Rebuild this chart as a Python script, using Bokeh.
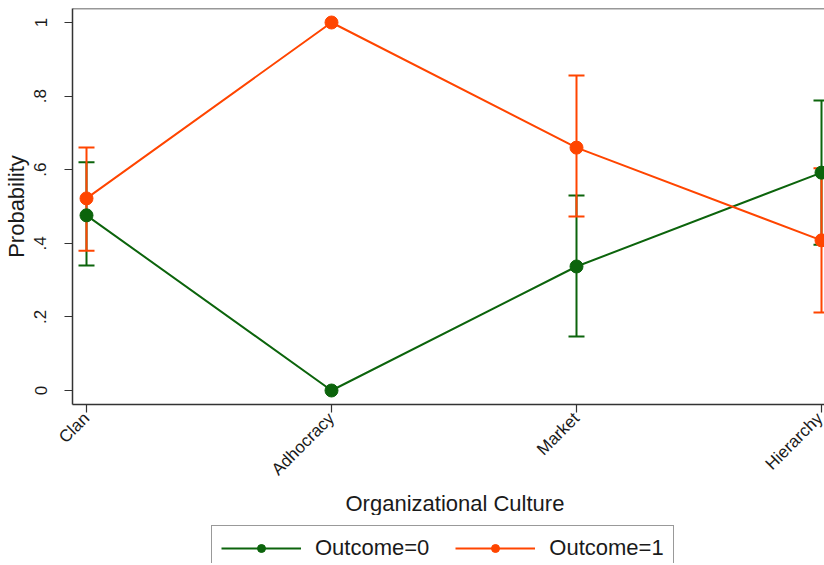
from bokeh.plotting import figure
from bokeh.layouts import column
from bokeh.models import (Range1d, FixedTicker, Whisker, TeeHead, ColumnDataSource,
                          Legend, LegendItem, Span, Title)
from bokeh.embed import file_html
from bokeh.resources import INLINE
import math

# ---- data ----
categories = ["Clan", "Adhocracy", "Market", "Hierarchy"]
positions = [1, 2, 3, 4]
prob0 = [0.476, 0.0, 0.337, 0.592]
lo0 = [0.340, 0.0, 0.147, 0.396]
hi0 = [0.620, 0.0, 0.530, 0.788]
prob1 = [0.522, 1.0, 0.660, 0.408]
lo1 = [0.380, 1.0, 0.473, 0.212]
hi1 = [0.660, 1.0, 0.856, 0.604]
y_ticks = [0, 0.2, 0.4, 0.6, 0.8, 1.0]
y_tick_labels = ["0", ".2", ".4", ".6", ".8", "1"]
series_names = ["Outcome=0", "Outcome=1"]
x_title = "Organizational Culture"
y_title = "Probability"

GREEN = "#0c640c"
ORANGE = "#ff4500"
FONT = "Liberation Sans"

p = figure(frame_width=754, frame_height=396, output_backend="svg", toolbar_location=None,
           x_range=Range1d(1 - 14 / 245, 4 + 5 / 245),
           y_range=Range1d(-14 / 368, 1 + 14 / 368),
           min_border_top=8, min_border_right=0, min_border_left=70, min_border_bottom=0)
p.outline_line_color = None
p.grid.visible = False
p.background_fill_color = "white"

# top frame line
p.add_layout(Span(location=1 + 14 / 368, dimension="width", line_color="#333333", line_width=1.5))

# axes
p.xaxis.ticker = FixedTicker(ticks=positions)
p.xaxis.major_label_overrides = {pos: c for pos, c in zip(positions, categories)}
p.xaxis.major_label_orientation = math.pi / 4
p.xaxis.minor_tick_line_color = None
p.yaxis.ticker = FixedTicker(ticks=y_ticks)
p.yaxis.major_label_overrides = {t: l for t, l in zip(y_ticks, y_tick_labels)}
p.yaxis.major_label_orientation = "vertical"
p.yaxis.minor_tick_line_color = None
for ax in (p.xaxis[0], p.yaxis[0]):
    ax.axis_line_color = "#333333"
    ax.axis_line_width = 1.5
    ax.major_tick_line_color = "#333333"
    ax.major_tick_line_width = 1.2
    ax.major_tick_out = 8
    ax.major_tick_in = 0
    ax.major_label_text_font = FONT
    ax.major_label_text_font_size = "17px"
    ax.major_label_text_color = "#1a1a1a"
    ax.axis_label_text_font = FONT
    ax.axis_label_text_font_size = "22px"
    ax.axis_label_text_font_style = "normal"
    ax.axis_label_text_color = "#1a1a1a"
p.yaxis.axis_label = y_title
p.yaxis.major_label_standoff = 18
p.yaxis.axis_label_standoff = 3
p.xaxis.major_label_standoff = 3

# x-axis title as a below Title so it can be centred like the reference
p.add_layout(Title(text=x_title, align="left", offset=273, standoff=0,
                   text_font=FONT, text_font_size="22px", text_font_style="normal",
                   text_color="#1a1a1a"), "below")

# error bars (skip degenerate intervals)
def ci_source(lo, hi):
    xs, ls, hs = [], [], []
    for x, l, h in zip(positions, lo, hi):
        if h > l:
            xs.append(x); ls.append(l); hs.append(h)
    return ColumnDataSource(dict(x=xs, lower=ls, upper=hs))

for lo, hi, col in ((lo0, hi0, GREEN), (lo1, hi1, ORANGE)):
    w = Whisker(source=ci_source(lo, hi), base="x", lower="lower", upper="upper",
                dimension="height", line_color=col, line_width=2, level="underlay",
                upper_head=TeeHead(size=16, line_color=col, line_width=2),
                lower_head=TeeHead(size=16, line_color=col, line_width=2))
    p.add_layout(w)

p.line(positions, prob0, line_color=GREEN, line_width=2)
p.line(positions, prob1, line_color=ORANGE, line_width=2)
p.scatter(positions, prob0, size=13, fill_color=GREEN, line_color=GREEN)
p.scatter(positions, prob1, size=13, fill_color=ORANGE, line_color=ORANGE)

# ---- legend strip (separate figure so the legend is never clipped) ----
# its ranges keep the series out of view; the renderers only supply legend glyphs
pl = figure(width=824, height=48, output_backend="svg", toolbar_location=None,
            x_range=Range1d(-3, -2), y_range=Range1d(-3, -2),
            min_border_top=0, min_border_right=0, min_border_left=0, min_border_bottom=0)
pl.axis.visible = False
pl.grid.visible = False
pl.outline_line_color = None
lg0 = pl.line(positions, prob0, line_color=GREEN, line_width=2)
sg0 = pl.scatter(positions, prob0, size=13, fill_color=GREEN, line_color=GREEN)
lg1 = pl.line(positions, prob1, line_color=ORANGE, line_width=2)
sg1 = pl.scatter(positions, prob1, size=13, fill_color=ORANGE, line_color=ORANGE)

legend = Legend(items=[LegendItem(label=series_names[0], renderers=[lg0, sg0]),
                       LegendItem(label=series_names[1], renderers=[lg1, sg1])],
                orientation="horizontal", location=(139, -8),
                label_text_font=FONT, label_text_font_size="22px", label_text_color="#1a1a1a",
                glyph_width=80, glyph_height=20, label_standoff=14, spacing=26,
                padding=9, margin=0, border_line_color="#333333", border_line_width=1.2)
pl.add_layout(legend, "center")

layout = column(p, pl, spacing=0)
open("out.html", "w").write(file_html(layout, INLINE))
